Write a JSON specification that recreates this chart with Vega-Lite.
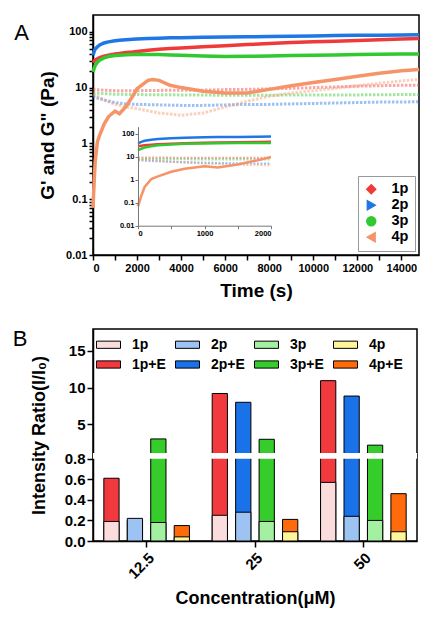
{
  "$schema": "https://vega.github.io/schema/vega-lite/v6.json",
  "background": "white",
  "padding": {"left": 12, "top": 14, "right": 5, "bottom": 5},
  "spacing": 26,
  "resolve": {"scale": {"color": "independent", "shape": "independent"}, "legend": {"color": "independent", "shape": "independent"}},
  "config": {
    "font": "Liberation Sans",
    "view": {"stroke": "black", "strokeWidth": 1.5},
    "axis": {"domainColor": "black", "domainWidth": 1.5, "tickColor": "black", "tickWidth": 1.5, "labelColor": "black", "labelFontWeight": "bold", "titleColor": "black", "titleFontWeight": "bold", "grid": false, "labelOverlap": false},
    "title": {"color": "black", "fontWeight": "normal"}
  },
  "datasets": {
    "rheo": [
      {"t":0,"s":"1p","m":"G1","v":28},{"t":50,"s":"1p","m":"G1","v":29.5},{"t":100,"s":"1p","m":"G1","v":31},{"t":200,"s":"1p","m":"G1","v":33},{"t":300,"s":"1p","m":"G1","v":34.5},{"t":500,"s":"1p","m":"G1","v":36.5},{"t":700,"s":"1p","m":"G1","v":38},{"t":1000,"s":"1p","m":"G1","v":40},{"t":1200,"s":"1p","m":"G1","v":41},{"t":1500,"s":"1p","m":"G1","v":42.5},{"t":1800,"s":"1p","m":"G1","v":43.5},{"t":2000,"s":"1p","m":"G1","v":44.5},{"t":2500,"s":"1p","m":"G1","v":46.5},{"t":3000,"s":"1p","m":"G1","v":48.5},{"t":3500,"s":"1p","m":"G1","v":50},{"t":4000,"s":"1p","m":"G1","v":51.5},{"t":5000,"s":"1p","m":"G1","v":54},{"t":6000,"s":"1p","m":"G1","v":56.5},{"t":7000,"s":"1p","m":"G1","v":59},{"t":8000,"s":"1p","m":"G1","v":61.5},{"t":9000,"s":"1p","m":"G1","v":64},{"t":10000,"s":"1p","m":"G1","v":66},{"t":11000,"s":"1p","m":"G1","v":68},{"t":12000,"s":"1p","m":"G1","v":70},{"t":13000,"s":"1p","m":"G1","v":72},{"t":14000,"s":"1p","m":"G1","v":74},{"t":14800,"s":"1p","m":"G1","v":76},
      {"t":0,"s":"2p","m":"G1","v":38},{"t":50,"s":"2p","m":"G1","v":44},{"t":100,"s":"2p","m":"G1","v":49},{"t":200,"s":"2p","m":"G1","v":54},{"t":300,"s":"2p","m":"G1","v":58},{"t":500,"s":"2p","m":"G1","v":63},{"t":700,"s":"2p","m":"G1","v":66},{"t":1000,"s":"2p","m":"G1","v":69},{"t":1200,"s":"2p","m":"G1","v":70.5},{"t":1500,"s":"2p","m":"G1","v":72},{"t":1800,"s":"2p","m":"G1","v":73.5},{"t":2000,"s":"2p","m":"G1","v":74.5},{"t":2500,"s":"2p","m":"G1","v":76},{"t":3000,"s":"2p","m":"G1","v":77},{"t":3500,"s":"2p","m":"G1","v":78},{"t":4000,"s":"2p","m":"G1","v":78.5},{"t":5000,"s":"2p","m":"G1","v":79.5},{"t":6000,"s":"2p","m":"G1","v":80.5},{"t":7000,"s":"2p","m":"G1","v":81.5},{"t":8000,"s":"2p","m":"G1","v":82.5},{"t":9000,"s":"2p","m":"G1","v":83.5},{"t":10000,"s":"2p","m":"G1","v":84.5},{"t":11000,"s":"2p","m":"G1","v":85.5},{"t":12000,"s":"2p","m":"G1","v":86.5},{"t":13000,"s":"2p","m":"G1","v":87},{"t":14000,"s":"2p","m":"G1","v":88},{"t":14800,"s":"2p","m":"G1","v":88.5},
      {"t":0,"s":"3p","m":"G1","v":19},{"t":50,"s":"3p","m":"G1","v":22},{"t":100,"s":"3p","m":"G1","v":25},{"t":200,"s":"3p","m":"G1","v":28.5},{"t":300,"s":"3p","m":"G1","v":31},{"t":500,"s":"3p","m":"G1","v":34},{"t":700,"s":"3p","m":"G1","v":36},{"t":1000,"s":"3p","m":"G1","v":37.5},{"t":1200,"s":"3p","m":"G1","v":38},{"t":1500,"s":"3p","m":"G1","v":38.8},{"t":1800,"s":"3p","m":"G1","v":39.3},{"t":2000,"s":"3p","m":"G1","v":39.5},{"t":2500,"s":"3p","m":"G1","v":39.3},{"t":3000,"s":"3p","m":"G1","v":39},{"t":3500,"s":"3p","m":"G1","v":38.5},{"t":4000,"s":"3p","m":"G1","v":38},{"t":5000,"s":"3p","m":"G1","v":37},{"t":6000,"s":"3p","m":"G1","v":36},{"t":7000,"s":"3p","m":"G1","v":36.3},{"t":8000,"s":"3p","m":"G1","v":37},{"t":9000,"s":"3p","m":"G1","v":37.5},{"t":10000,"s":"3p","m":"G1","v":38},{"t":11000,"s":"3p","m":"G1","v":38.5},{"t":12000,"s":"3p","m":"G1","v":39},{"t":13000,"s":"3p","m":"G1","v":39.5},{"t":14000,"s":"3p","m":"G1","v":40},{"t":14800,"s":"3p","m":"G1","v":40},
      {"t":0,"s":"4p","m":"G1","v":0.07},{"t":50,"s":"4p","m":"G1","v":0.2},{"t":100,"s":"4p","m":"G1","v":0.48},{"t":200,"s":"4p","m":"G1","v":1.07},{"t":300,"s":"4p","m":"G1","v":1.4},{"t":500,"s":"4p","m":"G1","v":2.2},{"t":700,"s":"4p","m":"G1","v":3},{"t":1000,"s":"4p","m":"G1","v":3.8},{"t":1200,"s":"4p","m":"G1","v":3.4},{"t":1500,"s":"4p","m":"G1","v":4.6},{"t":1800,"s":"4p","m":"G1","v":7},{"t":2000,"s":"4p","m":"G1","v":9.6},{"t":2500,"s":"4p","m":"G1","v":13.5},{"t":2700,"s":"4p","m":"G1","v":14},{"t":3000,"s":"4p","m":"G1","v":13.5},{"t":3500,"s":"4p","m":"G1","v":11},{"t":4000,"s":"4p","m":"G1","v":10},{"t":5000,"s":"4p","m":"G1","v":8.6},{"t":6000,"s":"4p","m":"G1","v":8},{"t":7000,"s":"4p","m":"G1","v":8},{"t":8000,"s":"4p","m":"G1","v":9.3},{"t":9000,"s":"4p","m":"G1","v":10.8},{"t":10000,"s":"4p","m":"G1","v":12.3},{"t":11000,"s":"4p","m":"G1","v":14},{"t":12000,"s":"4p","m":"G1","v":16},{"t":13000,"s":"4p","m":"G1","v":18},{"t":14000,"s":"4p","m":"G1","v":20},{"t":14800,"s":"4p","m":"G1","v":21},
      {"t":0,"s":"1p","m":"G2","v":9.2},{"t":500,"s":"1p","m":"G2","v":9},{"t":1000,"s":"1p","m":"G2","v":8.8},{"t":2000,"s":"1p","m":"G2","v":8.8},{"t":3000,"s":"1p","m":"G2","v":8.9},{"t":4000,"s":"1p","m":"G2","v":9},{"t":5000,"s":"1p","m":"G2","v":9},{"t":6000,"s":"1p","m":"G2","v":9.2},{"t":7000,"s":"1p","m":"G2","v":9.3},{"t":8000,"s":"1p","m":"G2","v":9.5},{"t":9000,"s":"1p","m":"G2","v":9.7},{"t":10000,"s":"1p","m":"G2","v":10},{"t":11000,"s":"1p","m":"G2","v":10.3},{"t":12000,"s":"1p","m":"G2","v":10.6},{"t":13000,"s":"1p","m":"G2","v":10.8},{"t":14000,"s":"1p","m":"G2","v":11},{"t":14800,"s":"1p","m":"G2","v":11},
      {"t":0,"s":"2p","m":"G2","v":7},{"t":200,"s":"2p","m":"G2","v":6.5},{"t":500,"s":"2p","m":"G2","v":6},{"t":1000,"s":"2p","m":"G2","v":5.4},{"t":1500,"s":"2p","m":"G2","v":5.1},{"t":2000,"s":"2p","m":"G2","v":5},{"t":3000,"s":"2p","m":"G2","v":4.9},{"t":4000,"s":"2p","m":"G2","v":4.8},{"t":5000,"s":"2p","m":"G2","v":4.8},{"t":6000,"s":"2p","m":"G2","v":4.9},{"t":7000,"s":"2p","m":"G2","v":5},{"t":8000,"s":"2p","m":"G2","v":5},{"t":9000,"s":"2p","m":"G2","v":5.1},{"t":10000,"s":"2p","m":"G2","v":5.2},{"t":11000,"s":"2p","m":"G2","v":5.3},{"t":12000,"s":"2p","m":"G2","v":5.4},{"t":13000,"s":"2p","m":"G2","v":5.5},{"t":14000,"s":"2p","m":"G2","v":5.5},{"t":14800,"s":"2p","m":"G2","v":5.6},
      {"t":0,"s":"3p","m":"G2","v":8},{"t":500,"s":"3p","m":"G2","v":7.8},{"t":1000,"s":"3p","m":"G2","v":7.6},{"t":2000,"s":"3p","m":"G2","v":7.5},{"t":4000,"s":"3p","m":"G2","v":7.4},{"t":6000,"s":"3p","m":"G2","v":7.3},{"t":8000,"s":"3p","m":"G2","v":7.3},{"t":10000,"s":"3p","m":"G2","v":7.4},{"t":12000,"s":"3p","m":"G2","v":7.4},{"t":14000,"s":"3p","m":"G2","v":7.5},{"t":14800,"s":"3p","m":"G2","v":7.5},
      {"t":0,"s":"4p","m":"G2","v":7.5},{"t":200,"s":"4p","m":"G2","v":7},{"t":500,"s":"4p","m":"G2","v":6},{"t":1000,"s":"4p","m":"G2","v":5},{"t":1500,"s":"4p","m":"G2","v":4.5},{"t":2000,"s":"4p","m":"G2","v":4.2},{"t":3000,"s":"4p","m":"G2","v":3.5},{"t":4000,"s":"4p","m":"G2","v":3.2},{"t":5000,"s":"4p","m":"G2","v":3.5},{"t":6000,"s":"4p","m":"G2","v":4.5},{"t":7000,"s":"4p","m":"G2","v":5.7},{"t":8000,"s":"4p","m":"G2","v":7},{"t":9000,"s":"4p","m":"G2","v":8},{"t":10000,"s":"4p","m":"G2","v":8.8},{"t":11000,"s":"4p","m":"G2","v":9.7},{"t":12000,"s":"4p","m":"G2","v":10.8},{"t":13000,"s":"4p","m":"G2","v":12},{"t":14000,"s":"4p","m":"G2","v":13.2},{"t":14800,"s":"4p","m":"G2","v":14}
    ],
    "fluo": [
      {"conc":"12.5","s":"1p","type":"E","series":"1p+E","v":0.61},
      {"conc":"12.5","s":"2p","type":"E","series":"2p+E","v":0.2},
      {"conc":"12.5","s":"3p","type":"E","series":"3p+E","v":3.0},
      {"conc":"12.5","s":"4p","type":"E","series":"4p+E","v":0.15},
      {"conc":"25","s":"1p","type":"E","series":"1p+E","v":9.2},
      {"conc":"25","s":"2p","type":"E","series":"2p+E","v":8.0},
      {"conc":"25","s":"3p","type":"E","series":"3p+E","v":2.95},
      {"conc":"25","s":"4p","type":"E","series":"4p+E","v":0.21},
      {"conc":"50","s":"1p","type":"E","series":"1p+E","v":10.95},
      {"conc":"50","s":"2p","type":"E","series":"2p+E","v":8.85},
      {"conc":"50","s":"3p","type":"E","series":"3p+E","v":2.15},
      {"conc":"50","s":"4p","type":"E","series":"4p+E","v":0.46},
      {"conc":"12.5","s":"1p","type":"base","series":"1p","v":0.19},
      {"conc":"12.5","s":"2p","type":"base","series":"2p","v":0.22},
      {"conc":"12.5","s":"3p","type":"base","series":"3p","v":0.18},
      {"conc":"12.5","s":"4p","type":"base","series":"4p","v":0.04},
      {"conc":"25","s":"1p","type":"base","series":"1p","v":0.25},
      {"conc":"25","s":"2p","type":"base","series":"2p","v":0.28},
      {"conc":"25","s":"3p","type":"base","series":"3p","v":0.19},
      {"conc":"25","s":"4p","type":"base","series":"4p","v":0.09},
      {"conc":"50","s":"1p","type":"base","series":"1p","v":0.57},
      {"conc":"50","s":"2p","type":"base","series":"2p","v":0.24},
      {"conc":"50","s":"3p","type":"base","series":"3p","v":0.2},
      {"conc":"50","s":"4p","type":"base","series":"4p","v":0.09}
    ]
  },
  "vconcat": [
    {
      "width": 326,
      "height": 240,
      "title": {"text": "A", "orient": "left", "anchor": "end", "frame": "group", "angle": 0, "align": "right", "baseline": "top", "fontSize": 22, "fontWeight": "normal", "offset": -5, "dy": 8},
      "resolve": {"scale": {"x": "independent", "y": "independent"}},
      "layer": [
        {
          "data": {"name": "rheo"},
          "encoding": {
            "x": {"field": "t", "type": "quantitative", "scale": {"domain": [0, 14800], "nice": false},
              "axis": {"values": [0,1000,2000,3000,4000,5000,6000,7000,8000,9000,10000,11000,12000,13000,14000], "tickCount": 100, "labelExpr": "datum.value % 2000 == 0 ? datum.label : ''", "format": "d", "labelFontSize": 11, "tickSize": 5, "title": "Time (s)", "titleFontSize": 19, "titlePadding": 8}},
            "y": {"field": "v", "type": "quantitative", "scale": {"type": "log", "domain": [0.01, 200], "nice": false},
              "axis": {"values": [0.01,0.02,0.03,0.04,0.05,0.06,0.07,0.08,0.09,0.1,0.2,0.3,0.4,0.5,0.6,0.7,0.8,0.9,1,2,3,4,5,6,7,8,9,10,20,30,40,50,60,70,80,90,100], "tickCount": 100, "format": "~g", "labelExpr": "indexof([0.01,0.1,1,10,100], datum.value) >= 0 ? datum.label : ''", "labelFontSize": 11, "tickSize": 4, "title": "G' and G\" (Pa)", "titleFontSize": 19, "titlePadding": 8}},
            "color": {"field": "s", "type": "nominal", "scale": {"domain": ["1p","2p","3p","4p"], "range": ["#ef3a3a","#1f77e5","#32c832","#f49468"]},
              "legend": {"title": null, "orient": "bottom-right", "offset": 4, "strokeColor": "#999999", "fillColor": "white", "padding": 6, "labelFontSize": 14.5, "labelFontWeight": "bold", "labelColor": "black", "labelOffset": 13, "symbolSize": 80, "rowPadding": 0, "symbolOpacity": 1}}
          },
          "layer": [
            {"transform": [{"filter": "datum.t < 0"}], "mark": {"type": "point", "filled": true, "opacity": 1},
              "encoding": {"shape": {"field": "s", "type": "nominal", "scale": {"domain": ["1p","2p","3p","4p"], "range": ["diamond","triangle-right","circle","triangle-left"]},
                "legend": {"title": null, "orient": "bottom-right", "offset": 4, "strokeColor": "#999999", "fillColor": "white", "padding": 6, "labelFontSize": 14.5, "labelFontWeight": "bold", "labelColor": "black", "labelOffset": 13, "symbolSize": 80, "rowPadding": 0, "symbolOpacity": 1}}}},
            {"transform": [{"filter": "datum.m == 'G2'"}], "mark": {"type": "line", "strokeWidth": 3, "strokeOpacity": 0.45, "strokeDash": [2.5, 1.5]}},
            {"transform": [{"filter": "datum.m == 'G1'"}], "mark": {"type": "line", "strokeWidth": 3.5}}
          ]
        },
        {
          "encoding": {
            "x": {"field": "t", "type": "quantitative", "scale": {"domain": [0, 2000], "range": [45, 178], "nice": false},
              "axis": {"orient": "bottom", "offset": -29.3, "values": [0,500,1000,1500,2000], "tickCount": 100, "labelExpr": "datum.value % 1000 == 0 ? datum.label : ''", "format": "d", "labelFontSize": 7.5, "tickSize": 3, "labelPadding": 1, "domainColor": "#777777", "tickColor": "#777777", "domainWidth": 1, "tickWidth": 1, "title": null, "zindex": 1}},
            "y": {"field": "v", "type": "quantitative", "scale": {"type": "log", "domain": [0.01, 200], "range": [210.7, 111.7], "nice": false},
              "axis": {"orient": "left", "offset": -45, "values": [0.01, 0.1, 1, 10, 100], "tickCount": 100, "format": "~g", "labelFontSize": 7.5, "tickSize": 3, "labelPadding": 1, "domainColor": "#777777", "tickColor": "#777777", "domainWidth": 1, "tickWidth": 1, "title": null, "zindex": 1}}
          },
          "layer": [
            {"data": {"values": [{}]}, "mark": {"type": "rect", "fill": "white", "stroke": "#777777", "strokeWidth": 1.2},
              "encoding": {"x": {"datum": 0}, "x2": {"datum": 2000}, "y": {"datum": 0.01}, "y2": {"datum": 200}}},
            {"data": {"name": "rheo"}, "transform": [{"filter": "datum.t <= 2000 && datum.m == 'G2'"}], "mark": {"type": "line", "strokeWidth": 2.2, "strokeOpacity": 0.45, "strokeDash": [2, 1.5]},
              "encoding": {"color": {"field": "s", "type": "nominal"}}},
            {"data": {"name": "rheo"}, "transform": [{"filter": "datum.t <= 2000 && datum.m == 'G1'"}], "mark": {"type": "line", "strokeWidth": 2.5},
              "encoding": {"color": {"field": "s", "type": "nominal"}}}
          ]
        }
      ]
    },
    {
      "width": 324,
      "height": 212,
      "title": {"text": "B", "orient": "left", "anchor": "end", "frame": "group", "angle": 0, "align": "right", "baseline": "top", "fontSize": 22, "fontWeight": "normal", "offset": -12, "dy": 0},
      "layer": [
        {
          "data": {"name": "fluo"},
          "transform": [{"filter": "datum.type == 'E'"}],
          "mark": {"type": "bar", "stroke": "black", "strokeWidth": 1},
          "encoding": {
            "x": {"field": "conc", "type": "nominal", "sort": ["12.5","25","50"], "scale": {"paddingInner": 0.21, "paddingOuter": 0.1},
              "axis": {"labelAngle": -45, "labelFontSize": 15, "tickSize": 6, "labelPadding": 3, "title": "Concentration(μM)", "titleFontSize": 18, "titlePadding": 8}},
            "xOffset": {"field": "s", "type": "nominal", "scale": {"paddingInner": 0.35, "paddingOuter": 0}},
            "y": {"field": "v", "type": "quantitative", "scale": {"domain": [0, 0.8, 1.08, 18], "range": [212, 129.7, 124, 0], "nice": false},
              "axis": {"values": [0,0.2,0.4,0.6,0.8,5,10,15], "tickCount": 100, "labelOverlap": false, "labelExpr": "datum.value < 1 ? format(datum.value, '.1f') : format(datum.value, 'd')", "labelFontSize": 15, "tickSize": 6, "title": "Intensity Ratio(I/I₀)", "titleFontSize": 18, "titlePadding": 16}},
            "color": {"field": "series", "type": "nominal",
              "scale": {"domain": ["1p","2p","3p","4p","1p+E","2p+E","3p+E","4p+E"], "range": ["#fbdcdc","#9dc3f2","#a3f0a3","#fdf59a","#f23a3e","#1a72e8","#35cc2c","#ff6a0a"]},
              "legend": {"title": null, "orient": "top-left", "offset": 3, "columns": 4, "direction": "horizontal", "symbolType": "M-1,-0.3H1V0.3H-1Z", "symbolSize": 576, "symbolStrokeColor": "black", "symbolStrokeWidth": 1, "labelFontSize": 14, "labelFontWeight": "bold", "labelColor": "black", "labelOffset": 11, "columnPadding": 7, "rowPadding": 0, "padding": 0}}
          }
        },
        {
          "data": {"name": "fluo"},
          "transform": [{"filter": "datum.type == 'base'"}],
          "mark": {"type": "bar", "stroke": "black", "strokeWidth": 1},
          "encoding": {
            "x": {"field": "conc", "type": "nominal", "sort": ["12.5","25","50"]},
            "xOffset": {"field": "s", "type": "nominal"},
            "y": {"field": "v", "type": "quantitative"},
            "color": {"field": "series", "type": "nominal"}
          }
        },
        {
          "data": {"values": [{}]},
          "mark": {"type": "rect", "fill": "white"},
          "encoding": {"y": {"datum": 0.8}, "y2": {"datum": 1.08}}
        }
      ]
    }
  ]
}
